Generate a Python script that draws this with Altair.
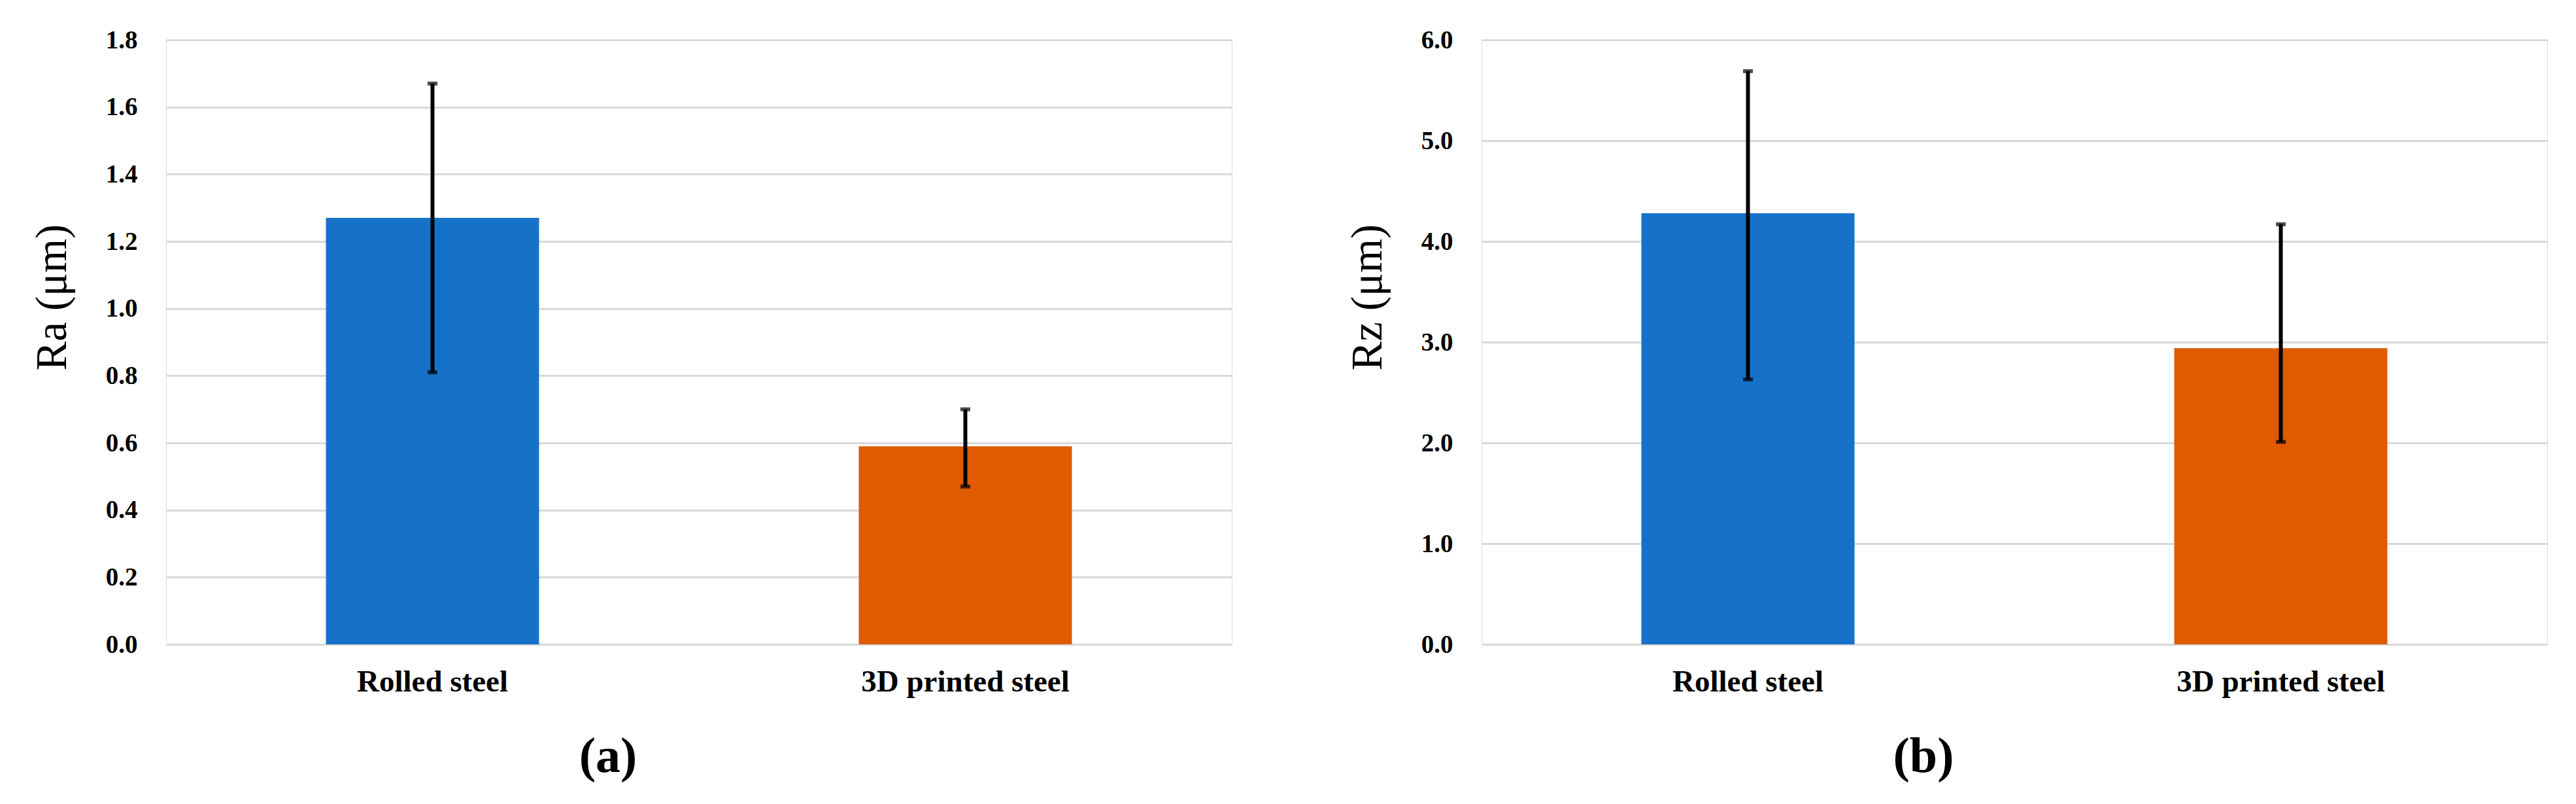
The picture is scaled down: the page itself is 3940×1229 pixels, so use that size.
import altair as alt
import pandas as pd

categories = ["Rolled steel", "3D printed steel"]
bar_colors = ["#1572C8", "#E05A00"]

ra_mean = [1.27, 0.59]
ra_low = [0.81, 0.47]
ra_high = [1.67, 0.70]

rz_mean = [4.28, 2.94]
rz_low = [2.63, 2.01]
rz_high = [5.69, 4.17]

ra_ticks = [0.0, 0.2, 0.4, 0.6, 0.8, 1.0, 1.2, 1.4, 1.6, 1.8]
rz_ticks = [0.0, 1.0, 2.0, 3.0, 4.0, 5.0, 6.0]

FONT = "Liberation Serif"
W, H = 1630, 924


def panel(mean, low, high, ticks, ytitle, caption):
    df = pd.DataFrame({"cat": categories, "mean": mean, "low": low, "high": high})
    x = alt.X(
        "cat:N",
        sort=categories,
        scale=alt.Scale(paddingInner=0.6, paddingOuter=0.3),
        axis=alt.Axis(
            title=None, labelAngle=0, ticks=False, tickSize=0, domain=False,
            labelFont=FONT, labelFontSize=47, labelFontWeight="bold",
            labelColor="#000000", labelBaseline="alphabetic", labelPadding=71,
            labelLimit=0,
        ),
    )
    yscale = alt.Scale(domain=[ticks[0], ticks[-1]], nice=False)
    yaxis = alt.Axis(
        values=ticks, format=".1f", title=ytitle, ticks=False, tickSize=0,
        domain=False, grid=True, gridColor="#D9D9D9", gridWidth=3,
        labelFont=FONT, labelFontSize=39, labelFontWeight="bold",
        labelColor="#000000", labelPadding=44,
        titleFont=FONT, titleFontSize=67, titleFontWeight="normal",
        titleColor="#000000", titleAngle=270, titleAlign="center",
        titleBaseline="alphabetic", titleX=-154, titleY=393,
    )
    bars = alt.Chart(df).mark_bar().encode(
        x=x,
        y=alt.Y("mean:Q", scale=yscale, axis=yaxis),
        color=alt.Color("cat:N", scale=alt.Scale(domain=categories, range=bar_colors), legend=None),
    )
    rule = alt.Chart(df).mark_rule(color="#000000", strokeWidth=6).encode(
        x=alt.X("cat:N", sort=categories),
        y=alt.Y("low:Q"),
        y2="high:Q",
    )
    cap_hi = alt.Chart(df).mark_tick(color="#000000", thickness=6, size=15).encode(
        x=alt.X("cat:N", sort=categories), y=alt.Y("high:Q")
    )
    cap_lo = alt.Chart(df).mark_tick(color="#000000", thickness=6, size=15).encode(
        x=alt.X("cat:N", sort=categories), y=alt.Y("low:Q")
    )
    return alt.layer(bars, rule, cap_hi, cap_lo).properties(
        width=W, height=H,
        title=alt.TitleParams(
            text=caption, orient="bottom", anchor="middle", frame="group",
            font=FONT, fontSize=76, fontWeight="bold", color="#000000",
            dx=-139, offset=55,
        ),
    )


a = panel(ra_mean, ra_low, ra_high, ra_ticks, "Ra (μm)", "(a)")
b = panel(rz_mean, rz_low, rz_high, rz_ticks, "Rz (μm)", "(b)")

chart = alt.hconcat(a, b, spacing=172).configure_view(stroke=None).configure(
    background="#FFFFFF", padding={"left": 37, "top": 33, "right": 5, "bottom": 5}
)

chart.save("out.html", embed_options={"renderer": "svg", "actions": False})
